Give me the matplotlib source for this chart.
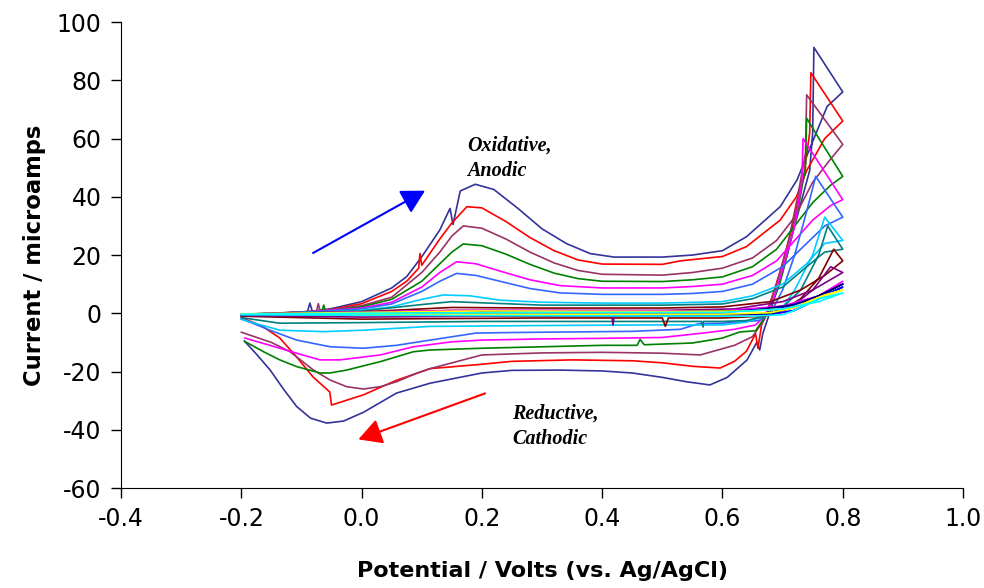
import matplotlib
matplotlib.use("Agg")
import matplotlib.pyplot as plt

plt.rcParams['axes.unicode_minus'] = False
plt.rcParams['font.family'] = 'DejaVu Sans'

# Cyclic voltammograms, one per scan rate.
# Each list: forward sweep -0.2 -> 0.8 V, then reverse sweep back to -0.2 V
# (potential V, current microamps).
navy = [(-0.20, -0.8), (-0.15, -0.3), (-0.09, 0.6), (-0.086, 3.5), (-0.082, 0.7), (-0.05, 1.6),
        (0.0, 4.0), (0.05, 8.7), (0.075, 12.6), (0.10, 19.4), (0.13, 28.6), (0.147, 36.0),
        (0.152, 30.5), (0.164, 42.0), (0.189, 44.3), (0.22, 42.5), (0.26, 36.0), (0.30, 29.0),
        (0.34, 24.0), (0.38, 20.5), (0.42, 19.3), (0.50, 19.3), (0.55, 20.0), (0.60, 21.5),
        (0.64, 26.3), (0.696, 36.6), (0.724, 45.8), (0.751, 59.5), (0.774, 71.0), (0.80, 76.0),
        (0.752, 91.3), (0.750, 62.0), (0.745, 49.0), (0.72, 30.0), (0.70, 14.0), (0.68, 1.0),
        (0.667, -7.0), (0.662, -12.6), (0.657, -10.0), (0.641, -16.0), (0.608, -22.0),
        (0.579, -24.6), (0.54, -23.5), (0.50, -22.0), (0.45, -20.5), (0.40, -19.8), (0.33, -19.5),
        (0.25, -19.6), (0.20, -20.5), (0.114, -24.0), (0.058, -27.4), (0.003, -34.0),
        (-0.03, -37.0), (-0.058, -37.7), (-0.085, -36.0), (-0.108, -32.0), (-0.13, -26.0),
        (-0.152, -19.5), (-0.175, -14.0), (-0.195, -9.5)]
red = [(-0.20, -0.6), (-0.10, 0.4), (-0.05, 1.3), (0.0, 3.3), (0.05, 7.5), (0.075, 11.0),
       (0.095, 15.5), (0.097, 20.5), (0.10, 16.5), (0.13, 25.5), (0.15, 31.0), (0.175, 36.6),
       (0.20, 36.2), (0.24, 31.5), (0.28, 26.0), (0.32, 21.5), (0.36, 18.3), (0.40, 16.9),
       (0.50, 16.8), (0.53, 18.0), (0.60, 19.5), (0.64, 22.9), (0.696, 32.0), (0.723, 40.0),
       (0.74, 49.0), (0.77, 60.0), (0.80, 66.0),
       (0.747, 82.6), (0.745, 62.0), (0.735, 47.0), (0.72, 33.0), (0.70, 17.0), (0.68, 4.0),
       (0.665, -4.0), (0.659, -12.0), (0.655, -7.0), (0.64, -13.0), (0.62, -16.5),
       (0.596, -18.8), (0.55, -18.2), (0.50, -17.0), (0.45, -16.3), (0.35, -16.0),
       (0.25, -16.5), (0.20, -17.5), (0.114, -19.0), (0.058, -23.0), (0.003, -28.0),
       (-0.05, -31.5), (-0.053, -27.0), (-0.081, -21.8), (-0.108, -15.0), (-0.136, -8.5),
       (-0.164, -4.6), (-0.177, -3.4), (-0.20, -1.5)]
plum = [(-0.20, -0.5), (-0.10, 0.4), (-0.075, 0.7), (-0.072, 3.3), (-0.069, 0.8), (0.0, 2.6),
        (0.05, 5.5), (0.10, 14.0), (0.13, 21.0), (0.15, 26.5), (0.169, 30.0), (0.20, 29.2),
        (0.24, 25.5), (0.28, 21.0), (0.32, 17.3), (0.36, 14.7), (0.40, 13.4), (0.50, 13.1),
        (0.55, 14.0), (0.60, 15.5), (0.65, 19.0), (0.69, 25.0), (0.72, 33.0), (0.75, 45.0),
        (0.78, 53.0), (0.80, 58.0),
        (0.740, 75.0), (0.738, 55.0), (0.725, 40.0), (0.71, 25.0), (0.69, 10.0), (0.67, -2.0),
        (0.65, -8.0), (0.62, -11.0), (0.563, -14.3), (0.50, -13.7), (0.40, -13.4),
        (0.30, -13.6), (0.20, -14.3), (0.114, -19.0), (0.0915, -20.6), (0.058, -23.5),
        (0.031, -25.2), (0.003, -26.0), (-0.025, -25.2), (-0.0525, -22.9), (-0.080, -19.5),
        (-0.119, -13.2), (-0.15, -10.0), (-0.20, -6.5)]
green = [(-0.20, -0.5), (-0.10, 0.5), (-0.066, 0.7), (-0.063, 2.8), (-0.06, 0.8), (0.0, 2.2),
         (0.05, 4.8), (0.10, 11.0), (0.13, 17.0), (0.15, 21.0), (0.169, 23.8), (0.20, 23.2),
         (0.24, 20.3), (0.28, 16.8), (0.32, 13.8), (0.36, 11.9), (0.40, 11.0), (0.50, 10.9),
         (0.55, 11.5), (0.60, 12.5), (0.65, 16.0), (0.69, 22.0), (0.72, 30.0), (0.75, 38.0),
         (0.78, 44.0), (0.80, 47.0),
         (0.762, 59.5), (0.740, 67.0), (0.738, 50.0), (0.725, 35.0), (0.71, 22.0),
         (0.695, 10.0), (0.68, 2.0), (0.665, -3.0), (0.655, -6.0), (0.629, -6.4), (0.60, -8.5),
         (0.55, -10.2), (0.47, -10.8), (0.463, -9.0), (0.458, -11.0), (0.40, -11.0),
         (0.30, -11.5), (0.20, -12.0), (0.114, -12.6), (0.086, -13.2), (0.031, -16.6),
         (-0.025, -19.5), (-0.053, -20.5), (-0.069, -20.5), (-0.108, -18.3), (-0.136, -16.0),
         (-0.163, -13.2), (-0.194, -9.7)]
magenta = [(-0.20, -0.4), (-0.10, 0.4), (0.0, 1.8), (0.05, 3.8), (0.10, 9.0), (0.13, 14.0),
           (0.158, 17.7), (0.19, 17.0), (0.23, 14.5), (0.28, 11.5), (0.33, 9.5), (0.40, 8.7),
           (0.50, 8.7), (0.55, 9.2), (0.60, 10.0), (0.65, 13.0), (0.69, 18.0), (0.72, 25.0),
           (0.75, 32.0), (0.78, 37.0), (0.80, 39.0),
           (0.734, 60.0), (0.732, 45.0), (0.72, 30.0), (0.70, 15.0), (0.685, 5.0), (0.67, -1.0),
           (0.655, -4.0), (0.62, -5.5), (0.563, -6.9), (0.50, -8.3), (0.40, -8.6), (0.30, -8.8),
           (0.20, -9.2), (0.15, -9.8), (0.086, -11.5), (0.031, -14.3), (-0.036, -16.0),
           (-0.069, -16.0), (-0.10, -14.2), (-0.136, -12.0), (-0.194, -8.5)]
royal = [(-0.20, -0.3), (-0.10, 0.3), (0.0, 1.5), (0.05, 3.2), (0.10, 7.5), (0.13, 11.0),
         (0.158, 13.7), (0.19, 13.0), (0.23, 11.0), (0.28, 8.5), (0.33, 7.0), (0.40, 6.5),
         (0.50, 6.5), (0.55, 6.8), (0.60, 7.5), (0.65, 10.0), (0.70, 16.0), (0.74, 24.0),
         (0.77, 30.0), (0.80, 33.0),
         (0.755, 47.0), (0.74, 35.0), (0.72, 20.0), (0.70, 8.0), (0.68, 0.0), (0.66, -2.5),
         (0.60, -3.4), (0.56, -3.6), (0.53, -5.5), (0.45, -6.2), (0.35, -6.4), (0.25, -6.6),
         (0.19, -6.8), (0.114, -9.2), (0.058, -11.0), (0.003, -12.0), (-0.052, -11.5),
         (-0.108, -9.2), (-0.15, -6.0), (-0.186, -3.0), (-0.20, -2.0)]
sky = [(-0.20, -0.3), (-0.10, 0.2), (0.0, 1.0), (0.05, 2.2), (0.10, 4.8), (0.136, 6.3),
       (0.18, 6.0), (0.23, 4.5), (0.30, 3.8), (0.40, 3.5), (0.50, 3.5), (0.60, 4.0),
       (0.65, 6.0), (0.70, 10.0), (0.74, 17.0), (0.77, 24.0), (0.80, 25.0),
       (0.77, 33.0), (0.75, 20.0), (0.72, 8.0), (0.70, 2.0), (0.67, -1.0), (0.64, -3.0),
       (0.60, -4.0), (0.48, -4.0), (0.30, -4.2), (0.114, -4.5), (0.003, -5.8), (-0.064, -6.3),
       (-0.136, -5.8), (-0.186, -2.9), (-0.20, -2.0)]
teal = [(-0.20, -0.3), (0.0, 0.8), (0.10, 3.0), (0.15, 4.0), (0.20, 3.6), (0.30, 2.8),
        (0.50, 2.8), (0.60, 3.2), (0.65, 5.0), (0.70, 9.0), (0.74, 16.0), (0.77, 21.0),
        (0.80, 22.0),
        (0.775, 30.0), (0.76, 20.0), (0.73, 8.0), (0.70, 2.0), (0.67, -1.0), (0.64, -2.5),
        (0.60, -2.8), (0.568, -2.8), (0.568, -4.7), (0.565, -2.8), (0.40, -2.8), (0.20, -2.8),
        (0.0, -3.2), (-0.136, -3.4), (-0.20, -1.5)]
darkred = [(-0.20, -0.3), (0.0, 0.5), (0.15, 2.0), (0.30, 1.8), (0.50, 1.8), (0.60, 2.2),
           (0.68, 4.0), (0.73, 8.0), (0.77, 13.0), (0.80, 18.0),
           (0.785, 22.0), (0.76, 12.0), (0.73, 5.0), (0.70, 1.0), (0.67, -1.0), (0.60, -1.6),
           (0.51, -1.6), (0.505, -4.5), (0.50, -1.6), (0.30, -1.6), (0.0, -2.0), (-0.20, -1.0)]
purple = [(-0.20, -0.3), (0.0, 0.3), (0.15, 1.0), (0.50, 1.0), (0.62, 1.5), (0.70, 4.0),
          (0.75, 8.0), (0.80, 14.0),
          (0.78, 16.0), (0.75, 8.0), (0.72, 3.0), (0.68, 0.0), (0.60, -1.0), (0.42, -1.0),
          (0.418, -4.0), (0.416, -1.0), (0.20, -1.0), (0.0, -1.3), (-0.20, -0.8)]
pink = [(-0.20, -0.3), (0.0, 0.5), (0.20, 1.0), (0.60, 0.8), (0.70, 2.5), (0.76, 6.0),
        (0.80, 11.0),
        (0.76, 5.0), (0.72, 1.0), (0.68, -0.5), (0.60, -0.6), (0.20, -0.6), (-0.20, -0.5)]
blue = [(-0.20, -0.3), (0.0, 0.3), (0.30, 0.3), (0.60, 0.3), (0.70, 2.0), (0.76, 5.5),
        (0.80, 9.0),
        (0.76, 5.0), (0.72, 1.0), (0.68, -0.3), (0.60, -0.3), (0.20, -0.3), (-0.20, -0.3)]
navy2 = [(-0.20, -0.3), (0.0, 0.2), (0.20, 0.5), (0.50, 0.5), (0.65, 1.0), (0.72, 3.0),
         (0.76, 6.0), (0.80, 10.0),
         (0.76, 6.0), (0.72, 2.0), (0.68, 0.0), (0.60, -0.5), (0.20, -0.5), (-0.20, -0.5)]
yellow = [(-0.20, -0.2), (0.0, 0.3), (0.20, 0.8), (0.50, 0.6), (0.65, 0.8), (0.717, 1.8),
          (0.762, 5.5), (0.80, 8.0),
          (0.77, 6.3), (0.717, 1.8), (0.68, 0.2), (0.60, -0.3), (0.20, -0.3), (-0.20, -0.3)]
cyan = [(-0.20, -0.3), (0.0, 0.0), (0.30, 0.3), (0.60, 0.3), (0.70, 1.5), (0.76, 4.0),
        (0.80, 7.0),
        (0.76, 5.0), (0.72, 1.0), (0.70, -0.5), (0.65, -1.0), (0.20, -0.8), (-0.20, -0.5)]

curves = [(navy, '#333399'), (red, '#FF0000'), (plum, '#993366'), (green, '#008000'),
          (magenta, '#FF00FF'), (royal, '#3366FF'), (sky, '#00CCFF'), (teal, '#008080'),
          (darkred, '#800000'), (purple, '#800080'), (pink, '#FF00FF'), (blue, '#0000FF'),
          (navy2, '#000080'), (yellow, '#FFFF00'), (cyan, '#00FFFF')]

fig = plt.figure(figsize=(9.84, 5.88), dpi=100)
ax = fig.add_axes([0.123, 0.170, 0.8557, 0.7925])

for pts, col in curves:
    v = [p[0] for p in pts]
    i = [p[1] for p in pts]
    ax.plot(v, i, color=col, lw=1.2)

# direction arrows and notes
ax.annotate('', xy=(0.1055, 42.1), xytext=(-0.0807, 20.7),
            arrowprops=dict(arrowstyle='-|>,head_length=0.55,head_width=0.3', color='#0000FF',
                            lw=1.5, mutation_scale=26, shrinkA=0, shrinkB=0))
ax.annotate('', xy=(-0.0054, -43.3), xytext=(0.2053, -27.5),
            arrowprops=dict(arrowstyle='-|>,head_length=0.55,head_width=0.3', color='#FF0000',
                            lw=1.5, mutation_scale=26, shrinkA=0, shrinkB=0))
ax.text(0.175, 61.0, 'Oxidative,\nAnodic', family='Liberation Serif', fontsize=14.5,
        fontweight='bold', style='italic', ha='left', va='top', linespacing=1.35)
ax.text(0.250, -31.0, 'Reductive,\nCathodic', family='Liberation Serif', fontsize=14.5,
        fontweight='bold', style='italic', ha='left', va='top', linespacing=1.35)

ax.set_xlim(-0.4, 1.0)
ax.set_ylim(-60, 100)
ax.set_xticks([-0.4, -0.2, 0.0, 0.2, 0.4, 0.6, 0.8, 1.0])
ax.set_xticklabels(['-0.4', '-0.2', '0.0', '0.2', '0.4', '0.6', '0.8', '1.0'])
ax.set_yticks(range(-60, 101, 20))
ax.spines['top'].set_visible(False)
ax.spines['right'].set_visible(False)
ax.tick_params(direction='out', length=7, width=1, labelsize=17, pad=7)
ax.set_xlabel('Potential / Volts (vs. Ag/AgCl)', fontsize=16, fontweight='bold', labelpad=21)
ax.set_ylabel('Current / microamps', fontsize=16.3, fontweight='bold', labelpad=8)

fig.savefig('out.png', dpi=100)
